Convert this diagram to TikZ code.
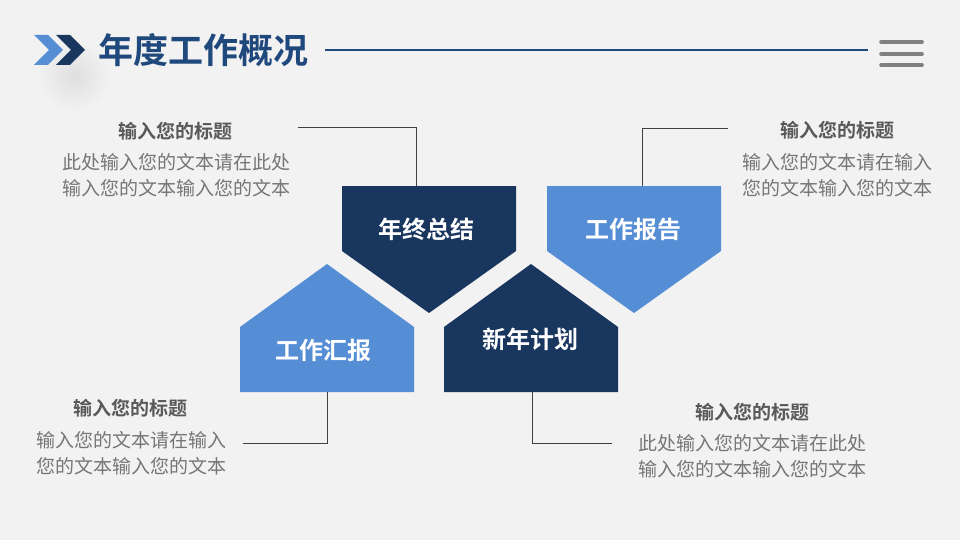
\documentclass[tikz,border=0pt]{standalone}
\usepackage{fontspec}
\setmainfont{Noto Sans CJK SC}
\newfontfamily\cjk{Noto Sans CJK SC}
\newfontfamily\cjkb{Noto Sans CJK SC Bold}
\definecolor{bgc}{RGB}{242,242,242}
\definecolor{navy}{RGB}{24,54,94}
\definecolor{lightb}{RGB}{85,142,213}
\definecolor{titleb}{RGB}{31,73,125}
\definecolor{headg}{RGB}{89,89,89}
\definecolor{bodyg}{RGB}{118,118,118}
\definecolor{lineg}{RGB}{64,64,64}
\definecolor{menug}{RGB}{128,128,128}
\tikzset{
  boxlabel/.style={text=white, font=\cjkb\fontsize{24}{27}\selectfont, inner sep=0pt},
  headtxt/.style={text=headg, font=\cjkb\fontsize{19}{22}\selectfont, inner sep=0pt},
  bodytxt/.style={text=bodyg, font=\cjk\fontsize{19}{25.5}\selectfont, align=center, inner sep=0pt},
  conn/.style={draw=lineg, line width=0.9pt},
  menubar/.style={draw=menug, line width=3.6pt, line cap=round},
}
\begin{document}
\begin{tikzpicture}[x=1pt,y=-1pt]
\useasboundingbox (0,0) rectangle (960,540);
\fill[bgc] (0,0) rectangle (960,540);
% shadow under chevrons
\shade[inner color=black!8!bgc, outer color=bgc] (74,76) circle (36);
% chevrons
\fill[lightb] (34,35) -- (48,35) -- (63,50) -- (48,65) -- (34,65) -- (49,50) -- cycle;
\fill[navy] (56,35) -- (70,35) -- (85,50) -- (70,65) -- (56,65) -- (71,50) -- cycle;
% title
\node[text=titleb, font=\cjkb\fontsize{35}{38}\selectfont, anchor=west, inner sep=0pt] (title) at (98,50) {年度工作概况};
\coordinate (tl1) at (325,50);
\coordinate (tl2) at (868,50);
\draw[titleb, line width=2.6pt] (tl1) -- (tl2);
% menu
\coordinate (m1a) at (881,42); \coordinate (m1b) at (922,42);
\coordinate (m2a) at (881,54); \coordinate (m2b) at (922,54);
\coordinate (m3a) at (881,65); \coordinate (m3b) at (922,65);
\draw[menubar] (m1a) -- (m1b);
\draw[menubar] (m2a) -- (m2b);
\draw[menubar] (m3a) -- (m3b);
% shapes
\fill[navy] (342,186) -- (516,186) -- (516,251) -- (429,313) -- (342,251) -- cycle;
\fill[lightb] (547,186) -- (721,186) -- (721,251) -- (634,313) -- (547,251) -- cycle;
\fill[lightb] (240,392) -- (414,392) -- (414,327) -- (327,264) -- (240,327) -- cycle;
\fill[navy] (444,392) -- (618,392) -- (618,327) -- (531,264) -- (444,327) -- cycle;
\node[boxlabel] (a) at (426,229) {年终总结};
\node[boxlabel] (b) at (633,229) {工作报告};
\node[boxlabel] (c) at (323,350) {工作汇报};
\node[boxlabel] (d) at (530,339) {新年计划};
% anchor coordinates for connectors
\coordinate (atop) at (416,186);
\coordinate (btop) at (642,186);
\coordinate (cbot) at (327,392);
\coordinate (dbot) at (532,392);
% texts
\node[headtxt] (h1) at (175,131) {输入您的标题};
\node[bodytxt] (t1) at (176,175) {此处输入您的文本请在此处\\输入您的文本输入您的文本};
\node[headtxt] (h2) at (837,130) {输入您的标题};
\node[bodytxt] (t2) at (837,175) {输入您的文本请在输入\\您的文本输入您的文本};
\node[headtxt] (h3) at (130,408) {输入您的标题};
\node[bodytxt] (t3) at (131,453) {输入您的文本请在输入\\您的文本输入您的文本};
\node[headtxt] (h4) at (752,412) {输入您的标题};
\node[bodytxt] (t4) at (752,456) {此处输入您的文本请在此处\\输入您的文本输入您的文本};
% connectors
\coordinate (c1e) at (298,127);
\coordinate (c2e) at (728,128);
\coordinate (c3e) at (243,443);
\coordinate (c4e) at (612,443);
\draw[conn] (c1e) -| (atop);
\draw[conn] (c2e) -| (btop);
\draw[conn] (c3e) -| (cbot);
\draw[conn] (c4e) -| (dbot);
\end{tikzpicture}
\end{document}
